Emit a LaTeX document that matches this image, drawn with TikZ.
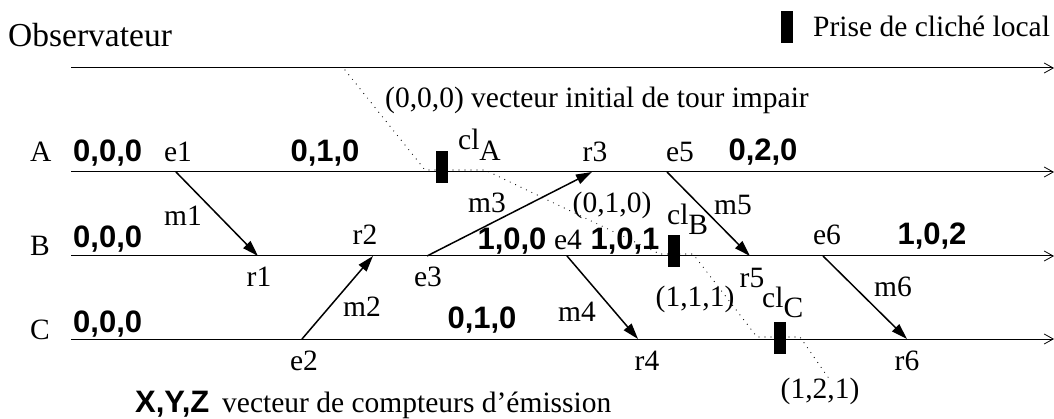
\documentclass[tikz,border=0pt]{standalone}
\usepackage{fontspec}
\setmainfont{Liberation Serif}
\newfontfamily\sansvec{Liberation Sans}
\usetikzlibrary{arrows.meta}

\begin{document}
\begin{tikzpicture}[
  x=1pt, y=-1pt,
  font=\fontsize{29.5}{31}\selectfont,
  axe/.style={line width=1pt, -{Straight Barb[length=9pt, width=10pt, line width=0.8pt]}},
  msg/.style={line width=1.5pt, -{Triangle[length=16pt, width=10pt]}},
  cut/.style={line width=1.2pt, line cap=round, dash pattern=on 0pt off 6pt},
  txt/.style={inner sep=0pt, anchor=base},
  vec/.style={txt, font=\sansvec\bfseries\fontsize{31}{33}\selectfont},
  cliche/.style={fill=black, minimum width=12pt, minimum height=32pt, inner sep=0pt},
]
\useasboundingbox (0,0) rectangle (1054,419);

% ================= legend =================
\node[txt, anchor=base west, font=\fontsize{33.5}{35}\selectfont] (obs) at (8,47) {Observateur};
\node[cliche] (leg) at (787,27) {};
\node[txt, anchor=base west] (legtxt) at (813,37) {Prise de clich\'e local};

% ================= time lines =================
\coordinate (O0) at (71,68);  \coordinate (O1) at (1054,68);
\coordinate (A0) at (71,172); \coordinate (A1) at (1054,172);
\coordinate (B0) at (71,256); \coordinate (B1) at (1054,256);
\coordinate (C0) at (71,339); \coordinate (C1) at (1054,339);
\draw[axe] (O0) -- (O1);
\draw[axe] (A0) -- (A1);
\draw[axe] (B0) -- (B1);
\draw[axe] (C0) -- (C1);

\node[txt, anchor=base west] (pA) at (30,162) {A};
\node[txt, anchor=base west] (pB) at (30,256) {B};
\node[txt, anchor=base west] (pC) at (30,340) {C};

% ================= events =================
\coordinate (e1) at (176,172); \coordinate (r1) at (258,256);
\coordinate (e2) at (302,339); \coordinate (r2) at (373,256);
\coordinate (e3) at (427,256); \coordinate (r3) at (592,172);
\coordinate (e4) at (567,256); \coordinate (r4) at (638,339);
\coordinate (e5) at (667,172); \coordinate (r5) at (750,256);
\coordinate (e6) at (823,256); \coordinate (r6) at (907,339);

\node[txt] (le1) at (178,162) {e1};
\node[txt] (lr1) at (259,287) {r1};
\node[txt] (le2) at (304,370) {e2};
\node[txt] (lr2) at (365,245) {r2};
\node[txt] (le3) at (428,287) {e3};
\node[txt] (lr3) at (595,162) {r3};
\node[txt] (le4) at (568,250) {e4};
\node[txt] (lr4) at (647,370) {r4};
\node[txt] (le5) at (680,162) {e5};
\node[txt] (lr5) at (752,288) {r5};
\node[txt] (le6) at (827,245) {e6};
\node[txt] (lr6) at (907,370) {r6};

% ================= messages =================
\draw[msg] (e1) -- (r1);
\draw[msg] (e2) -- (r2);
\draw[msg] (e3) -- (r3);
\draw[msg] (e4) -- (r4);
\draw[msg] (e5) -- (r5);
\draw[msg] (e6) -- (r6);

\node[txt] (lm1) at (183,226) {m1};
\node[txt] (lm2) at (362,317) {m2};
\node[txt] (lm3) at (487,213) {m3};
\node[txt] (lm4) at (577,322) {m4};
\node[txt] (lm5) at (733,215) {m5};
\node[txt] (lm6) at (893,297) {m6};

% ================= counters =================
\node[vec, anchor=base west] (vA0) at (73,162) {0,0,0};
\node[vec] (vA1) at (325,162) {0,1,0};
\node[vec] (vA2) at (763,161) {0,2,0};
\node[vec, anchor=base west] (vB0) at (73,248) {0,0,0};
\node[vec] (vB1) at (512,250) {1,0,0};
\node[vec] (vB2) at (625,250) {1,0,1};
\node[vec] (vB3) at (932,245) {1,0,2};
\node[vec, anchor=base west] (vC0) at (73,332) {0,0,0};
\node[vec] (vC1) at (482,328) {0,1,0};

% ================= snapshots and cut =================
\coordinate (c0) at (345,70);  \coordinate (c1) at (425,170);
\coordinate (c2) at (485,170); \coordinate (c3) at (660,254);
\coordinate (c4) at (693,254); \coordinate (c5) at (757,337);
\coordinate (c6) at (800,337); \coordinate (c7) at (830,380);
\draw[cut] (c0) -- (c1) -- (c2) -- (c3) -- (c4) -- (c5) -- (c6) -- (c7);

\node[cliche] (clA) at (442,167) {};
\node[cliche] (clB) at (674,251) {};
\node[cliche] (clC) at (780,338) {};
\node[txt, anchor=base west] (lclA) at (458,150) {cl\raisebox{-11pt}{A}};
\node[txt, anchor=base west] (lclB) at (667,225) {cl\raisebox{-10pt}{B}};
\node[txt, anchor=base west] (lclC) at (762,308) {cl\raisebox{-10pt}{C}};

\node[txt, anchor=base west] (init) at (385,108) {(0,0,0) vecteur initial de tour impair};
\node[txt] (vcB) at (612,213) {(0,1,0)};
\node[txt] (vcC) at (695,307) {(1,1,1)};
\node[txt] (vcD) at (820,398) {(1,2,1)};

% ================= key =================
\node[vec, anchor=base west] (xyz) at (135,412) {X,Y,Z};
\node[txt, anchor=base west] (xyztxt) at (222,412) {vecteur de compteurs d'\'emission};

\end{tikzpicture}
\end{document}
